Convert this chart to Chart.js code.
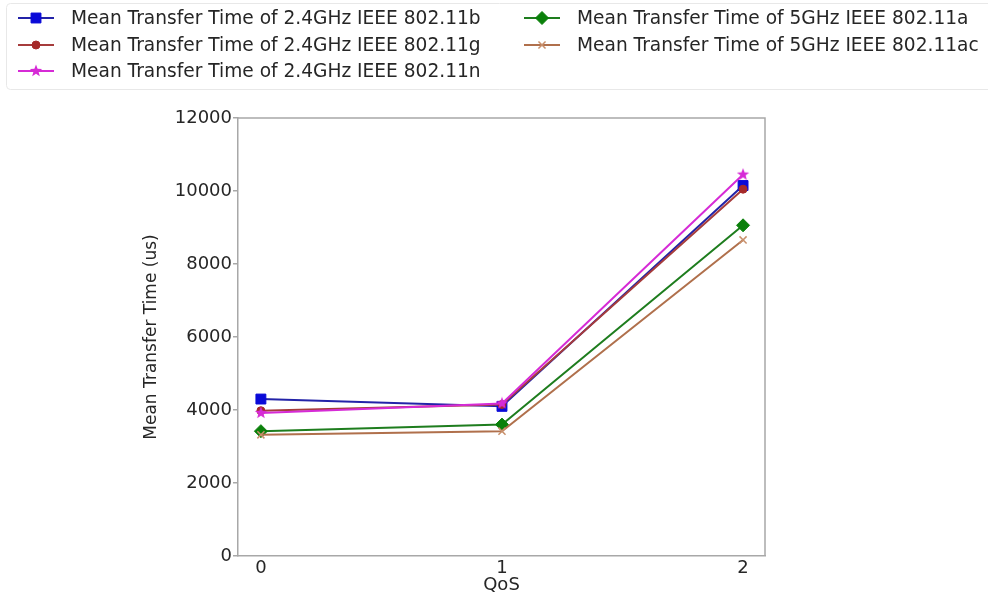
<!DOCTYPE html>
<html>
<head>
<meta charset="utf-8">
<script src="https://cdn.jsdelivr.net/npm/chart.js@4/dist/chart.umd.min.js"></script>
<style>
  html, body { margin: 0; padding: 0; background: #ffffff; }
  #wrap { width: 988px; height: 599px; position: relative; }
</style>
</head>
<body>
<div id="wrap"><canvas id="c" width="988" height="599"></canvas></div>
<script>
// ---- data ----
const qos = [0, 1, 2];
const qosTicks = [0, 1, 2];
const seriesLabels = [
  'Mean Transfer Time of 2.4GHz IEEE 802.11b',
  'Mean Transfer Time of 2.4GHz IEEE 802.11g',
  'Mean Transfer Time of 2.4GHz IEEE 802.11n',
  'Mean Transfer Time of 5GHz IEEE 802.11a',
  'Mean Transfer Time of 5GHz IEEE 802.11ac'
];
const ieee80211b = [4300, 4100, 10150];
const ieee80211g = [3980, 4150, 10050];
const ieee80211n = [3920, 4180, 10450];
const ieee80211a = [3420, 3600, 9060];
const ieee80211ac = [3320, 3420, 8660];
const yTicks = [0, 2000, 4000, 6000, 8000, 10000, 12000];
const xTitle = 'QoS';
const yTitle = 'Mean Transfer Time (us)';

// ---- styles ----
function starImage(color) {
  const c = document.createElement('canvas');
  c.width = 14; c.height = 14;
  const g = c.getContext('2d');
  g.fillStyle = color;
  g.beginPath();
  for (let i = 0; i < 10; i++) {
    const r = i % 2 === 0 ? 6.5 : 2.7;
    const a = -Math.PI / 2 + i * Math.PI / 5;
    const px = 7 + r * Math.cos(a), py = 7 + r * Math.sin(a);
    if (i === 0) g.moveTo(px, py); else g.lineTo(px, py);
  }
  g.closePath();
  g.fill();
  return c;
}
const starMagenta = starImage('#d62bd6');

function pts(vals) { return qos.map((q, i) => ({ x: q, y: vals[i] })); }

const datasets = [
  { label: seriesLabels[0], data: pts(ieee80211b), borderColor: '#2323a8', pointStyle: 'rect', pointRadius: 7,
    pointBackgroundColor: '#0a0ad8', pointBorderColor: '#0a0ad8', pointBorderWidth: 1, order: 5 },
  { label: seriesLabels[1], data: pts(ieee80211g), borderColor: '#a63c3c', pointStyle: 'circle', pointRadius: 4,
    pointBackgroundColor: '#a52a2a', pointBorderColor: '#a52a2a', pointBorderWidth: 1, order: 4 },
  { label: seriesLabels[2], data: pts(ieee80211n), borderColor: '#d62bd6', pointStyle: starMagenta, pointRadius: 6,
    pointBackgroundColor: '#d62bd6', pointBorderColor: '#d62bd6', pointBorderWidth: 1, order: 3 },
  { label: seriesLabels[3], data: pts(ieee80211a), borderColor: '#1e7d1e', pointStyle: 'rectRot', pointRadius: 6.5,
    pointBackgroundColor: '#0a800a', pointBorderColor: '#0a800a', pointBorderWidth: 1, order: 2 },
  { label: seriesLabels[4], data: pts(ieee80211ac), borderColor: '#b0704c', pointStyle: 'crossRot', pointRadius: 5,
    pointBackgroundColor: '#c8906c', pointBorderColor: '#c8906c', pointBorderWidth: 1.5, order: 1 }
].map(d => Object.assign({ borderWidth: 2, fill: false, tension: 0, pointHoverRadius: d.pointRadius }, d));

const FONT = "'DejaVu Sans', sans-serif";
const SPINE = '#a8a8a8';

// legend + frame plugin
const legendLayout = [
  { col: 0, row: 0 }, { col: 0, row: 1 }, { col: 0, row: 2 },
  { col: 1, row: 0 }, { col: 1, row: 1 }
];
const framePlugin = {
  id: 'frameAndLegend',
  beforeDatasetsDraw(chart) {
    const { ctx, chartArea: a } = chart;
    ctx.save();
    ctx.strokeStyle = SPINE;
    ctx.lineWidth = 1.5;
    ctx.beginPath();
    ctx.moveTo(a.left, a.top);
    ctx.lineTo(a.right, a.top);
    ctx.lineTo(a.right, a.bottom);
    ctx.stroke();
    ctx.restore();
  },
  afterDraw(chart) {
    const ctx = chart.ctx;
    ctx.save();
    // faint legend frame
    ctx.strokeStyle = '#e8e8e8';
    ctx.lineWidth = 1;
    ctx.beginPath();
    ctx.roundRect(6.5, 3.5, 990, 86, 4);
    ctx.stroke();
    const colX = [18, 524];
    const rowY = [18, 45, 71];
    const lineLen = 36;
    chart.data.datasets.forEach((ds, i) => {
      const pos = legendLayout[i];
      const x0 = colX[pos.col], y = rowY[pos.row];
      ctx.strokeStyle = ds.borderColor;
      ctx.lineWidth = 2;
      ctx.beginPath();
      ctx.moveTo(x0, y);
      ctx.lineTo(x0 + lineLen, y);
      ctx.stroke();
      ctx.fillStyle = ds.pointBackgroundColor;
      ctx.strokeStyle = ds.pointBorderColor;
      ctx.lineWidth = ds.pointBorderWidth;
      Chart.helpers.drawPoint(ctx, { pointStyle: ds.pointStyle, rotation: 0, radius: ds.pointRadius, borderWidth: ds.pointBorderWidth }, x0 + lineLen / 2, y);
      ctx.fillStyle = '#262626';
      ctx.font = '18.6px ' + FONT;
      ctx.textBaseline = 'middle';
      ctx.textAlign = 'left';
      ctx.fillText(ds.label, x0 + lineLen + 17, y + 1);
    });
    ctx.restore();
  }
};

new Chart(document.getElementById('c'), {
  type: 'line',
  data: { datasets },
  plugins: [framePlugin],
  options: {
    responsive: false,
    animation: false,
    devicePixelRatio: 1,
    layout: { padding: { top: 118, right: 223, bottom: 0, left: 0 } },
    plugins: { legend: { display: false }, tooltip: { enabled: false } },
    scales: {
      x: {
        type: 'linear',
        min: -0.095,
        max: 2.091,
        afterBuildTicks: (s) => { s.ticks = qosTicks.map(v => ({ value: v })); },
        afterFit: (s) => { s.height = 43; },
        grid: { display: false, drawTicks: false, tickLength: 0 },
        border: { display: true, color: SPINE, width: 1.5 },
        ticks: { font: { family: FONT, size: 18 }, color: '#262626', padding: 2, maxRotation: 0,
                 callback: (v) => String(v) },
        title: { display: true, text: xTitle, font: { family: FONT, size: 18 }, color: '#262626', padding: { top: 0, bottom: 3 } }
      },
      y: {
        min: 0,
        max: 12000,
        afterBuildTicks: (s) => { s.ticks = yTicks.map(v => ({ value: v })); },
        afterFit: (s) => { s.width = 238; },
        grid: { display: true, drawOnChartArea: false, drawTicks: true, tickLength: 5, color: SPINE, lineWidth: 1.5 },
        border: { display: true, color: SPINE, width: 1.5 },
        ticks: { font: { family: FONT, size: 18 }, color: '#262626', padding: 1, callback: (v) => String(v) },
        title: { display: true, text: yTitle, font: { family: FONT, size: 17 }, color: '#262626', padding: { top: 141, bottom: 0 } }
      }
    }
  }
});
</script>
</body>
</html>
